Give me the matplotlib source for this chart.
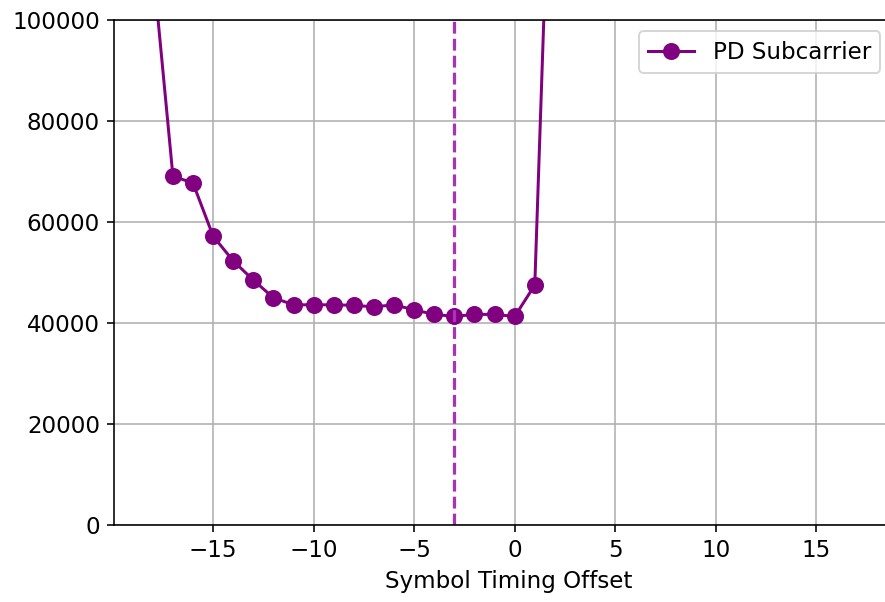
import matplotlib
matplotlib.use("Agg")
import matplotlib.pyplot as plt

offsets = [-18, -17, -16, -15, -14, -13, -12, -11, -10, -9, -8, -7, -6, -5, -4, -3, -2, -1, 0, 1, 2]
values = [111000, 69100, 67700, 57200, 52300, 48500, 45000, 43600, 43600, 43600, 43500, 43200,
          43600, 42600, 41700, 41300, 41700, 41700, 41300, 47500, 165000]
best_offset = -3
xticks = [-15, -10, -5, 0, 5, 10, 15]
yticks = [0, 20000, 40000, 60000, 80000, 100000]

plt.rcParams['font.size'] = 11.5
fig = plt.figure(figsize=(885/144, 602/144), dpi=144)
ax = fig.add_axes([114/885, 1 - 525/602, 1.02 - 114/885, (525 - 20)/602])
ax.plot(offsets, values, '-o', color='purple', markersize=7.5, label='PD Subcarrier')
ax.axvline(best_offset, color='#a833b9', linestyle='--', linewidth=1.6)
ax.set_xlim(-19.93, 19.3)
ax.set_ylim(0, 100000)
ax.set_xticks(xticks)
ax.set_yticks(yticks)
ax.grid(True)
ax.set_xlabel('Symbol Timing Offset')
ax.legend(loc='upper right', bbox_to_anchor=(0.986, 1.0))
fig.savefig('out.png', dpi=144)
